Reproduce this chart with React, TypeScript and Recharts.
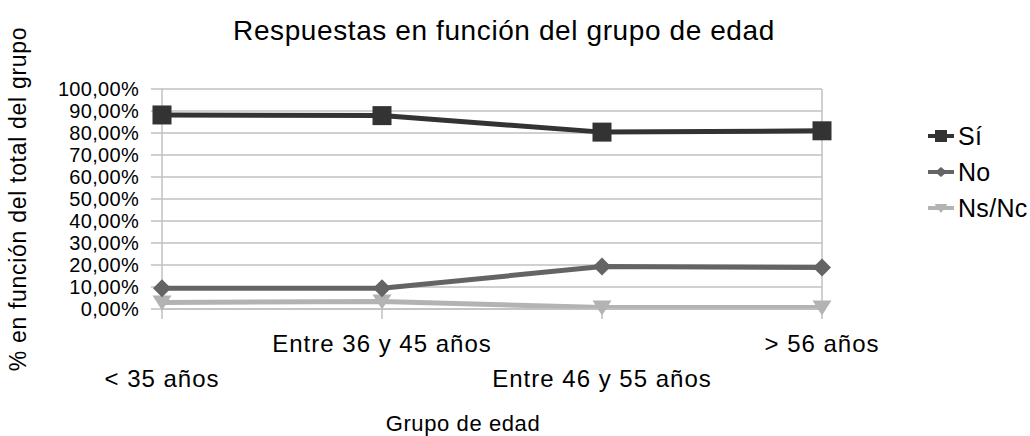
import React from 'react';
import {
  LineChart, Line, XAxis, YAxis, CartesianGrid, ReferenceLine, Label,
} from 'recharts';

const categories = ['< 35 años', 'Entre 36 y 45 años', 'Entre 46 y 55 años', '> 56 años'];
const siValues = [88.2, 87.9, 80.4, 81.0];
const noValues = [9.4, 9.4, 19.3, 18.9];
const nsncValues = [3.0, 3.4, 0.7, 0.7];
const yTicks = [0, 10, 20, 30, 40, 50, 60, 70, 80, 90, 100];

const seriesNames = ['Sí', 'No', 'Ns/Nc'];
const seriesColors = ['#333333', '#646464', '#b3b3b3'];

const data = categories.map((c, i) => ({
  cat: c,
  si: siValues[i],
  no: noValues[i],
  nsnc: nsncValues[i],
}));

const FONT = '"Liberation Sans", Arial, sans-serif';
const GRID = '#c0c0c0';

const SquareDot = (p: any) => {
  const { cx, cy } = p;
  if (cx == null || cy == null) return null;
  return <rect key={`s${p.index}`} x={cx - 9.5} y={cy - 9.5} width={19} height={19} fill={seriesColors[0]} />;
};
const DiamondDot = (p: any) => {
  const { cx, cy } = p;
  if (cx == null || cy == null) return null;
  return (
    <polygon key={`d${p.index}`} points={`${cx},${cy - 9} ${cx + 9},${cy} ${cx},${cy + 9} ${cx - 9},${cy}`} fill={seriesColors[1]} />
  );
};
const TriDot = (p: any) => {
  const { cx, cy } = p;
  if (cx == null || cy == null) return null;
  return (
    <polygon key={`t${p.index}`} points={`${cx - 9.5},${cy - 7} ${cx + 9.5},${cy - 7} ${cx},${cy + 8}`} fill={seriesColors[2]} />
  );
};

const XTick = (p: any) => {
  const { x, y, payload, index } = p;
  const upper = index % 2 === 1;
  return (
    <text
      x={x}
      y={y + (upper ? 31 : 66)}
      textAnchor="middle"
      fontFamily={FONT}
      fontSize={24}
      letterSpacing={1}
      fill="#000"
    >
      {payload.value}
    </text>
  );
};

const LegendIcon = ({ i }: { i: number }) => {
  const c = seriesColors[i];
  let marker: React.ReactNode;
  if (i === 0) marker = <rect x={7} y={4} width={12} height={12} fill={c} />;
  else if (i === 1) marker = <polygon points="13,5 19,10 13,15 7,10" fill={c} />;
  else marker = <polygon points="6.5,6 19.5,6 13,15" fill={c} />;
  return (
    <svg width={26} height={20} style={{ display: 'block' }}>
      <line x1={0} y1={10} x2={26} y2={10} stroke={c} strokeWidth={4} />
      {marker}
    </svg>
  );
};

const LegendBox = () => (
  <div
    style={{
      position: 'absolute', left: 928, top: 118, width: 110,
      fontFamily: FONT, fontSize: 25, letterSpacing: 0.3, color: '#000',
    }}
  >
    {seriesNames.map((n, i) => (
      <div key={n} style={{ display: 'flex', alignItems: 'center', height: 36 }}>
        <LegendIcon i={i} />
        <span style={{ marginLeft: 4 }}>{n}</span>
      </div>
    ))}
  </div>
);

export default function App() {
  return (
    <div style={{ position: 'absolute', left: 0, top: 0, width: 1030, height: 436, background: '#fff' }}>
      <div
        style={{
          position: 'absolute', left: 0, top: 14, width: 1008, textAlign: 'center',
          fontFamily: FONT, fontSize: 28, letterSpacing: 0.6, color: '#000', lineHeight: '34px',
        }}
      >
        Respuestas en función del grupo de edad
      </div>
      <LineChart
        width={1030}
        height={436}
        data={data}
        margin={{ top: 89, right: 208, bottom: 0, left: 0 }}
      >
        <CartesianGrid vertical={false} stroke={GRID} strokeWidth={1.5} />
        <XAxis
          dataKey="cat"
          height={127}
          stroke={GRID}
          strokeWidth={1.5}
          tickSize={10}
          tickMargin={2}
          tick={<XTick />}
          interval={0}
        >
          <Label
            value="Grupo de edad"
            position="insideBottom"
            offset={5}
            dx={-29}
            style={{ fontFamily: FONT, fontSize: 22, letterSpacing: 0.6, fill: '#000' }}
          />
        </XAxis>
        <YAxis
          width={162}
          domain={[0, 100]}
          ticks={yTicks}
          interval={0}
          stroke={GRID}
          strokeWidth={1.5}
          tickSize={11}
          tickMargin={12}
          tickFormatter={(v: number) => `${v.toFixed(2).replace('.', ',')}%`}
          tick={{ fontFamily: FONT, fontSize: 20, letterSpacing: 0.3, fill: '#000' }}
        >
          <Label
            value="% en función del total del grupo"
            angle={-90}
            position="insideLeft"
            offset={18}
            style={{ fontFamily: FONT, fontSize: 23, letterSpacing: 0.7, fill: '#000', textAnchor: 'middle' }}
          />
        </YAxis>
        <ReferenceLine x={categories[3]} stroke={GRID} strokeWidth={1.5} />
        <Line dataKey="nsnc" name="Ns/Nc" stroke={seriesColors[2]} strokeWidth={5} dot={<TriDot />} activeDot={false} isAnimationActive={false} />
        <Line dataKey="no" name="No" stroke={seriesColors[1]} strokeWidth={5} dot={<DiamondDot />} activeDot={false} isAnimationActive={false} />
        <Line dataKey="si" name="Sí" stroke={seriesColors[0]} strokeWidth={5} dot={<SquareDot />} activeDot={false} isAnimationActive={false} />
      </LineChart>
      <LegendBox />
    </div>
  );
}
